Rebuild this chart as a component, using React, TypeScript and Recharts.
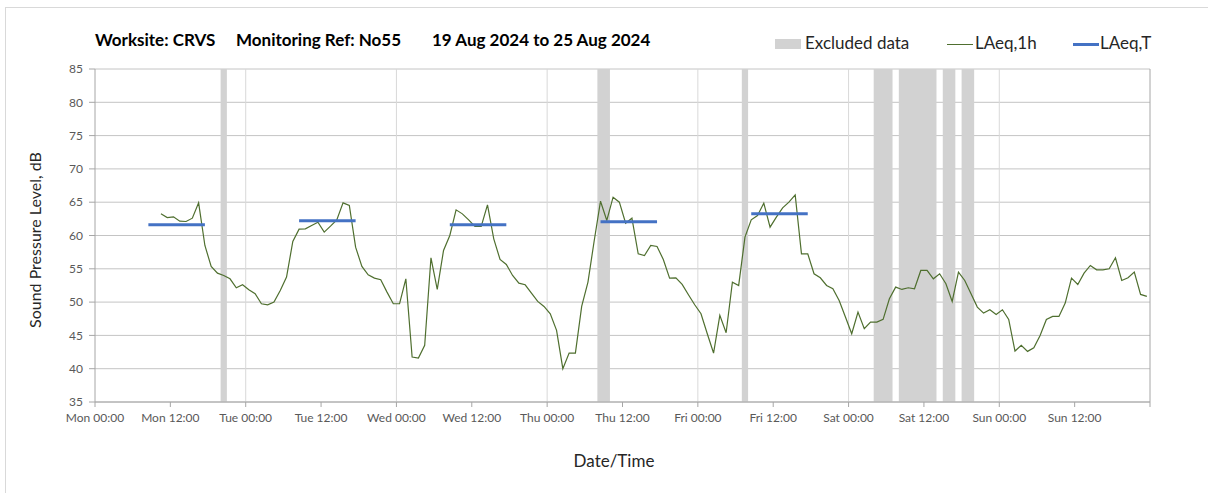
import React from 'react';
import {
  ComposedChart,
  Line,
  XAxis,
  YAxis,
  CartesianGrid,
  ReferenceArea,
  ReferenceLine,
} from 'recharts';

// ---- data ----
const DAYS = ['Mon', 'Tue', 'Wed', 'Thu', 'Fri', 'Sat', 'Sun'];
const X_TICKS = [0, 12, 24, 36, 48, 60, 72, 84, 96, 108, 120, 132, 144, 156, 168];
const DAY_LINES = [24, 48, 72, 96, 120, 144, 168];
const Y_TICKS = [35, 40, 45, 50, 55, 60, 65, 70, 75, 80, 85];

// hourly LAeq,1h, first value is the hour starting Mon 10:00
const FIRST_HOUR = 10;
const LAEQ_1H = [
  // Mon 10-23
  63.25, 62.7, 62.8, 62.15, 62.1, 62.6, 64.9, 58.5, 55.35, 54.35, 54.0, 53.5, 52.15, 52.6,
  // Tue
  51.85, 51.25, 49.75, 49.6, 50.0, 51.75, 53.75, 59.1, 60.95, 61.0, 61.5, 62.0,
  60.5, 61.4, 62.35, 64.9, 64.5, 58.25, 55.35, 54.1, 53.6, 53.35, 51.5, 49.75,
  // Wed
  49.75, 53.5, 41.75, 41.6, 43.5, 56.65, 51.9, 57.75, 60.0, 63.85, 63.25, 62.35,
  61.35, 61.35, 64.6, 59.5, 56.4, 55.65, 54.0, 52.85, 52.6, 51.35, 50.1, 49.35,
  // Thu
  48.25, 45.75, 40.0, 42.35, 42.35, 49.35, 53.0, 59.25, 65.15, 62.25, 65.75, 65.0,
  61.85, 62.6, 57.25, 57.0, 58.5, 58.35, 56.4, 53.6, 53.65, 52.65, 51.1, 49.6,
  // Fri
  48.25, 45.25, 42.35, 48.0, 45.4, 53.0, 52.5, 59.75, 62.35, 63.0, 64.85, 61.25,
  62.75, 64.15, 65.0, 66.1, 57.25, 57.25, 54.25, 53.65, 52.5, 52.0, 50.25, 47.75,
  // Sat
  45.25, 48.5, 46.0, 47.0, 47.0, 47.4, 50.5, 52.25, 51.9, 52.15, 52.0, 54.75,
  54.75, 53.5, 54.25, 52.75, 50.1, 54.5, 53.25, 51.25, 49.25, 48.35, 48.85, 48.15,
  // Sun
  48.85, 47.4, 42.65, 43.5, 42.6, 43.15, 45.0, 47.4, 47.85, 47.85, 49.85, 53.6,
  52.65, 54.35, 55.5, 54.85, 54.85, 55.0, 56.65, 53.25, 53.65, 54.5, 51.15, 50.85,
];

// LAeq,T daytime periods (hours from Mon 00:00)
const LAEQ_T_START = [8.5, 32.5, 56.5, 80.5, 104.5];
const LAEQ_T_END = [17.5, 41.5, 65.5, 89.5, 113.5];
const LAEQ_T_VALUE = [61.6, 62.2, 61.6, 62.05, 63.25];

// excluded data periods (hours from Mon 00:00)
const EXCL_START = [20, 80, 103, 124, 128, 135, 138];
const EXCL_END = [21, 82, 104, 127, 134, 137, 140];

const TITLE_PARTS = ['Worksite: CRVS', 'Monitoring Ref: No55', '19 Aug 2024 to 25 Aug 2024'];

// ---- derived ----
const lineData = LAEQ_1H.map((v, i) => ({ t: FIRST_HOUR + i + 0.5, v }));
const tSegments = LAEQ_T_VALUE.map((v, i) => [
  { t: LAEQ_T_START[i], v },
  { t: LAEQ_T_END[i], v },
]);

const fmtX = (h: number) => {
  if (h >= 168) return '';
  const d = DAYS[Math.floor(h / 24)];
  return `${d} ${h % 24 === 0 ? '00:00' : '12:00'}`;
};

const FONT = 'Lato, "Open Sans", sans-serif';
const GREEN = '#4f6f2f';
const BLUE = '#4472c4';
const EXCL = '#d2d2d2';
const TITLE_LEFTS = [95, 236, 432];

const textStyle: React.CSSProperties = {
  position: 'absolute',
  fontSize: 17,
  color: '#262626',
  lineHeight: '20px',
  whiteSpace: 'nowrap',
};

export default function App() {
  return (
    <div
      style={{
        position: 'absolute',
        left: 0,
        top: 0,
        width: 1208,
        height: 493,
        overflow: 'hidden',
        background: '#fff',
        fontFamily: FONT,
      }}
    >
      <div
        style={{
          position: 'absolute',
          left: 5,
          top: 7,
          width: 1220,
          height: 500,
          border: '1px solid #d9d9d9',
        }}
      />
      {TITLE_PARTS.map((p, i) => (
        <div
          key={p}
          style={{ ...textStyle, left: TITLE_LEFTS[i], top: 30, fontWeight: 700, color: '#000' }}
        >
          {p}
        </div>
      ))}
      {/* legend */}
      <div style={{ position: 'absolute', left: 775, top: 39, width: 26, height: 10, background: EXCL }} />
      <div style={{ ...textStyle, left: 805, top: 33 }}>Excluded data</div>
      <div style={{ position: 'absolute', left: 947, top: 44, width: 26, height: 1.2, background: GREEN }} />
      <div style={{ ...textStyle, left: 975, top: 33 }}>LAeq,1h</div>
      <div style={{ position: 'absolute', left: 1073, top: 43, width: 26, height: 3, background: BLUE }} />
      <div style={{ ...textStyle, left: 1100, top: 33 }}>LAeq,T</div>
      {/* axis titles */}
      <div
        style={{
          ...textStyle,
          fontSize: 16,
          left: 35,
          top: 240,
          transform: 'translate(-50%, -50%) rotate(-90deg)',
        }}
      >
        Sound Pressure Level, dB
      </div>
      <div
        style={{
          ...textStyle,
          left: 614,
          top: 461,
          transform: 'translate(-50%, -50%)',
        }}
      >
        Date/Time
      </div>

      <div style={{ position: 'absolute', left: 0, top: 0 }}>
        <ComposedChart
          width={1208}
          height={493}
          margin={{ top: 69, right: 58, bottom: 61, left: 0 }}
          style={{ fontFamily: FONT }}
        >
          <CartesianGrid vertical={false} stroke="#c4c4c4" strokeWidth={1} />
          {EXCL_START.map((s, i) => (
            <ReferenceArea
              key={`ex${i}`}
              x1={s}
              x2={EXCL_END[i]}
              y1={35}
              y2={85}
              fill={EXCL}
              fillOpacity={1}
              stroke="none"
            />
          ))}
          {DAY_LINES.map((d) => (
            <ReferenceLine
              key={`d${d}`}
              x={d}
              stroke={d === 168 ? '#a6a6a6' : '#d9d9d9'}
              strokeWidth={1}
            />
          ))}
          <XAxis
            type="number"
            dataKey="t"
            domain={[0, 168]}
            ticks={X_TICKS}
            interval={0}
            tickFormatter={fmtX}
            allowDataOverflow
            axisLine={{ stroke: '#a6a6a6' }}
            tickLine={{ stroke: '#a6a6a6' }}
            tickSize={5}
            tickMargin={6}
            tick={{ fill: '#595959', fontSize: 12, fontFamily: FONT }}
            height={30}
          />
          <YAxis
            type="number"
            domain={[35, 85]}
            ticks={Y_TICKS}
            interval={0}
            width={95}
            axisLine={{ stroke: '#a6a6a6' }}
            tickLine={{ stroke: '#a6a6a6' }}
            tickSize={6}
            tickMargin={6}
            tick={{ fill: '#595959', fontSize: 12, fontFamily: FONT }}
          />
          <Line
            data={lineData}
            dataKey="v"
            type="linear"
            stroke={GREEN}
            strokeWidth={1.2}
            dot={false}
            activeDot={false}
            isAnimationActive={false}
          />
          {tSegments.map((seg, i) => (
            <Line
              key={`t${i}`}
              data={seg}
              dataKey="v"
              type="linear"
              stroke={BLUE}
              strokeWidth={3}
              dot={false}
              activeDot={false}
              isAnimationActive={false}
            />
          ))}
        </ComposedChart>
      </div>
    </div>
  );
}
